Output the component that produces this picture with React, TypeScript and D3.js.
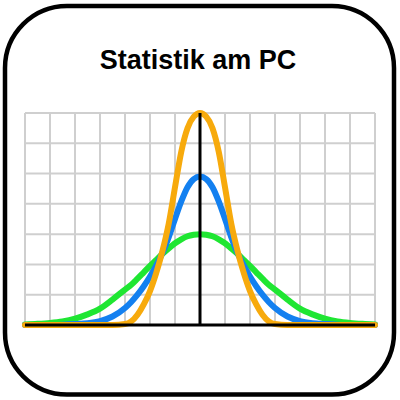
import React from "react";
import * as d3 from "d3";

const title = "Statistik am PC";

const xs = [
  -7, -6.5, -6, -5.5, -5, -4.5, -4, -3.5, -3, -2.75, -2.5, -2.25, -2, -1.75, -1.5, -1.25, -1, -0.75, -0.5, -0.25,
  0,
  0.25, 0.5, 0.75, 1, 1.25, 1.5, 1.75, 2, 2.25, 2.5, 2.75, 3, 3.5, 4, 4.5, 5, 5.5, 6, 6.5, 7,
];

const greenSeries = [
  0.02, 0.04, 0.07, 0.12, 0.21, 0.35, 0.54, 0.84, 1.17, 1.33, 1.53, 1.74, 1.95, 2.15, 2.35, 2.53, 2.7, 2.83, 2.93, 2.98,
  3.0,
  2.98, 2.93, 2.83, 2.7, 2.53, 2.35, 2.15, 1.95, 1.74, 1.53, 1.33, 1.17, 0.84, 0.54, 0.35, 0.21, 0.12, 0.07, 0.04, 0.02,
];

const blueSeries = [
  0, 0, 0, 0.01, 0.03, 0.06, 0.13, 0.28, 0.56, 0.76, 1.0, 1.28, 1.6, 1.97, 2.38, 2.9, 3.5, 4.08, 4.55, 4.82,
  4.9,
  4.82, 4.55, 4.08, 3.5, 2.9, 2.38, 1.97, 1.6, 1.28, 1.0, 0.76, 0.56, 0.28, 0.13, 0.06, 0.03, 0.01, 0, 0, 0,
];

const orangeSeries = [
  0, 0, 0, 0, 0, 0, 0, 0, 0.03, 0.12, 0.34, 0.68, 1.12, 1.72, 2.45, 3.35, 4.55, 5.72, 6.5, 6.88,
  7.0,
  6.88, 6.5, 5.72, 4.55, 3.35, 2.45, 1.72, 1.12, 0.68, 0.34, 0.12, 0.03, 0, 0, 0, 0, 0, 0, 0, 0,
];

const gridCols = [-7, -6, -5, -4, -3, -2, -1, 0, 1, 2, 3, 4, 5, 6, 7];
const gridRows = [0, 1, 2, 3, 4, 5, 6, 7];

const series = [
  { name: "green", values: greenSeries, color: "#1fe632" },
  { name: "blue", values: blueSeries, color: "#1380f0" },
  { name: "orange", values: orangeSeries, color: "#f7aa0c" },
];

export default function App() {
  const x = d3.scaleLinear().domain([-7, 7]).range([25, 375]);
  const y = d3.scaleLinear().domain([0, 7]).range([325, 113]);

  const line = (vals: number[]) =>
    d3
      .line<number>()
      .x((_, i) => x(xs[i]))
      .y((v) => y(v))
      .curve(d3.curveMonotoneX)(vals) || "";

  return (
    <svg
      width={400}
      height={400}
      viewBox="0 0 400 400"
      style={{ position: "absolute", left: 0, top: 0, display: "block" }}
    >
      <rect x={0} y={0} width={400} height={400} fill="#ffffff" />
      <rect
        x={5}
        y={6}
        width={389}
        height={388.5}
        rx={62}
        ry={62}
        fill="#ffffff"
        stroke="#000000"
        strokeWidth={4.5}
      />
      <text
        x={198}
        y={69}
        textAnchor="middle"
        fontFamily="'Liberation Sans', Arial, sans-serif"
        fontWeight="bold"
        fontSize={27}
        fill="#000000"
      >
        {title}
      </text>
      <g stroke="#cfcfcf" strokeWidth={2}>
        {gridCols.map((c) => (
          <line key={"c" + c} x1={x(c)} x2={x(c)} y1={y(0)} y2={y(7)} />
        ))}
        {gridRows.map((r) => (
          <line key={"r" + r} x1={x(-7)} x2={x(7)} y1={y(r)} y2={y(r)} />
        ))}
      </g>
      {series.map((s) => (
        <path
          key={s.name}
          d={line(s.values)}
          fill="none"
          stroke={s.color}
          strokeWidth={6}
          strokeLinecap="round"
          strokeLinejoin="round"
        />
      ))}
      <g stroke="#000000" strokeWidth={3}>
        <line x1={x(-7)} x2={x(7)} y1={y(0)} y2={y(0)} />
        <line x1={x(0)} x2={x(0)} y1={y(0)} y2={y(7)} />
      </g>
    </svg>
  );
}
